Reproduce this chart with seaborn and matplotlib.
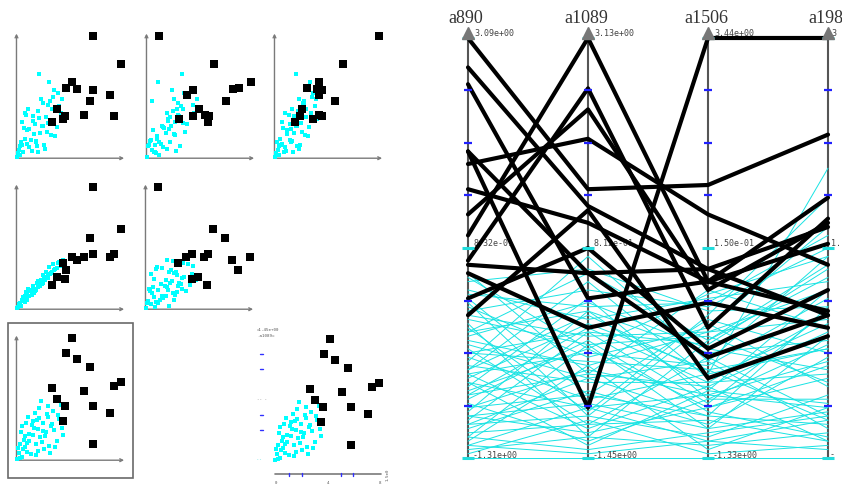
import matplotlib
matplotlib.use("Agg")
import matplotlib.pyplot as plt
import matplotlib.patches as mpatches
import numpy as np
import pandas as pd
import seaborn as sns

sns.set_theme(style="white")
plt.rcParams["font.family"] = ["DejaVu Sans"]

# ---------------- data (values normalised to each axis' min..max) ----------------
variables = ["a890", "a1089", "a1506", "a198"]

# selected (black) items
black_a890 = [1.00, 0.93, 0.89, 0.73, 0.73, 0.70, 0.64, 0.58, 0.53, 0.47, 0.46, 0.44, 0.38, 0.34]
black_a1089 = [0.64, 0.60, 0.38, 0.12, 0.44, 0.76, 0.56, 0.83, 1.00, 0.88, 0.44, 0.31, 0.50, 0.59]
black_a1506 = [0.65, 0.45, 0.42, 1.00, 0.45, 0.58, 0.42, 0.40, 0.42, 0.31, 0.24, 0.37, 0.26, 0.19]
black_a198 = [0.77, 0.34, 0.51, 1.00, 0.55, 0.46, 0.35, 0.56, 0.62, 0.57, 0.34, 0.31, 0.40, 0.29]

# unselected (cyan) items
cyan_a890 = [0.02, 0.05, 0.08, 0.03, 0.10, 0.12, 0.06, 0.15, 0.18, 0.20, 0.22, 0.25, 0.14, 0.28,
             0.30, 0.09, 0.33, 0.35, 0.38, 0.40, 0.42, 0.17, 0.26, 0.32, 0.04, 0.11, 0.21, 0.36,
             0.44, 0.07, 0.13, 0.19, 0.24, 0.29, 0.31, 0.01, 0.16, 0.23, 0.27, 0.34, 0.37, 0.39,
             0.05, 0.10, 0.12, 0.20, 0.25, 0.30, 0.03, 0.15, 0.43, 0.08, 0.18, 0.21, 0.00]
cyan_a1089 = [0.05, 0.02, 0.10, 0.12, 0.06, 0.15, 0.08, 0.20, 0.12, 0.25, 0.18, 0.30, 0.28, 0.22,
              0.35, 0.30, 0.27, 0.40, 0.15, 0.33, 0.45, 0.38, 0.08, 0.05, 0.22, 0.35, 0.42, 0.24,
              0.20, 0.16, 0.04, 0.32, 0.14, 0.37, 0.11, 0.09, 0.26, 0.48, 0.19, 0.29, 0.10, 0.36,
              0.27, 0.13, 0.21, 0.07, 0.23, 0.44, 0.01, 0.31, 0.26, 0.19, 0.03, 0.34, 0.00]
cyan_a1506 = [0.03, 0.06, 0.05, 0.04, 0.12, 0.10, 0.09, 0.17, 0.15, 0.22, 0.18, 0.27, 0.11, 0.30,
              0.25, 0.13, 0.29, 0.36, 0.33, 0.38, 0.35, 0.14, 0.24, 0.28, 0.02, 0.16, 0.19, 0.31,
              0.40, 0.08, 0.14, 0.21, 0.20, 0.26, 0.34, 0.01, 0.12, 0.23, 0.23, 0.30, 0.32, 0.37,
              0.07, 0.07, 0.15, 0.17, 0.21, 0.28, 0.04, 0.18, 0.39, 0.10, 0.16, 0.20, 0.00]
cyan_a198 = [0.06, 0.10, 0.15, 0.02, 0.22, 0.08, 0.04, 0.30, 0.12, 0.38, 0.20, 0.45, 0.05, 0.33,
             0.28, 0.35, 0.18, 0.50, 0.25, 0.42, 0.36, 0.27, 0.10, 0.46, 0.12, 0.40, 0.32, 0.55,
             0.31, 0.24, 0.14, 0.09, 0.26, 0.21, 0.62, 0.03, 0.19, 0.48, 0.07, 0.40, 0.17, 0.53,
             0.29, 0.11, 0.23, 0.04, 0.26, 0.43, 0.09, 0.34, 0.48, 0.36, 0.13, 0.69, 0.00]

# the labels of the last axis are cut by the picture edge in the reference: keep the visible part
top_labels = ["3.09e+00", "3.13e+00", "3.44e+00", "3"]
mid_labels = ["8.32e-01", "8.12e-01", "1.50e-01", "1."]
bottom_labels = ["-1.31e+00", "-1.45e+00", "-1.33e+00", "-"]

# ---------------- tables ----------------
n_c, n_b = len(cyan_a890), len(black_a890)
df = pd.DataFrame({
    "item": list(range(n_c + n_b)),
    "group": ["cyan"] * n_c + ["black"] * n_b,
    "a890": cyan_a890 + black_a890,
    "a1089": cyan_a1089 + black_a1089,
    "a1506": cyan_a1506 + black_a1506,
    "a198": cyan_a198 + black_a198,
})
long = df.melt(id_vars=["item", "group"], value_vars=variables, var_name="var", value_name="value")
long["pos"] = long["var"].map({v: i for i, v in enumerate(variables)})
long = long.sort_values(["item", "pos"])

W, H = 842, 491
fig = plt.figure(figsize=(W / 100, H / 100), dpi=100)
fig.patch.set_facecolor("white")


def px_axes(x0, y0, x1, y1):
    return fig.add_axes([x0 / W, 1 - y1 / H, (x1 - x0) / W, (y1 - y0) / H])


AX_GRAY = "#7a7a7a"


def scatter_panel(ox, oy, xvar, yvar, arrows=True):
    ax = px_axes(ox, oy - 121, ox + 104, oy)
    ax.set_xlim(0, 1)
    ax.set_ylim(0, 1)
    ax.axis("off")
    if arrows:
        ap = dict(arrowstyle="->", color=AX_GRAY, lw=1.0, mutation_scale=5, shrinkA=0, shrinkB=0)
        ax.annotate("", xy=(1.03, -0.01), xytext=(-0.005, -0.01), arrowprops=ap, annotation_clip=False)
        ax.annotate("", xy=(-0.005, 1.02), xytext=(-0.005, -0.01), arrowprops=ap, annotation_clip=False)
    sub_c = df[df.group == "cyan"]
    sub_b = df[df.group == "black"]
    sns.scatterplot(data=sub_c, x=xvar, y=yvar, ax=ax, marker="s", s=6.5, color="#00ffff",
                    linewidth=0, clip_on=False, legend=False, zorder=3)
    sns.scatterplot(data=sub_b, x=xvar, y=yvar, ax=ax, marker="s", s=26, color="black",
                    linewidth=0, clip_on=False, legend=False, zorder=4)
    ax.set_xlabel("")
    ax.set_ylabel("")
    return ax


# scatterplot matrix: columns x = a890, a1089, a1506 ; rows y = a198, a1506, a1089
scatter_panel(17, 157, "a890", "a198")
scatter_panel(147, 157, "a1089", "a198")
scatter_panel(275, 157, "a1506", "a198")
scatter_panel(17, 308, "a890", "a1506")
scatter_panel(146, 308, "a1089", "a1506")
scatter_panel(17, 459, "a890", "a1089")

# frame around the selected panel
fig.patches.append(mpatches.Rectangle((8 / W, 1 - 478 / H), 125 / W, 155 / H, transform=fig.transFigure,
                                      fill=False, edgecolor="#6a6a6a", lw=1.2))

# enlarged view of the selected panel
axz = scatter_panel(275, 460, "a890", "a1089", arrows=False)
axz.plot([0, 1.02], [-0.117, -0.117], color=AX_GRAY, lw=1.2, clip_on=False)
for xt in [0.13, 0.26, 0.63, 0.75]:
    axz.plot([xt, xt], [-0.105, -0.13], color="#3030ff", lw=1, clip_on=False)
for yt in [0.88, 0.75, 0.37, 0.25]:
    axz.plot([-0.145, -0.12], [yt, yt], color="#3030ff", lw=1, clip_on=False)
small = dict(fontsize=3, color="#555", clip_on=False, family="DejaVu Sans Mono")
axz.text(-0.17, 1.07, "=1.45e+00", **small)
axz.text(-0.17, 1.02, "-a1089=", **small)
axz.text(-0.17, 0.5, "-- -", **small)
axz.text(-0.17, 0.0, "- -", color="#00cccc", fontsize=3, clip_on=False)
axz.text(0.0, -0.2, "0", **small)
axz.text(0.5, -0.2, "4", **small)
axz.text(1.0, -0.2, "8", **small)
axz.text(1.06, -0.12, "1.5e0", rotation=90, va="center", **small)

# ---------------- parallel coordinates ----------------
axp = px_axes(440, 0, 842, 491)
axp.set_xlim((440 - 468) / 120, (842 - 468) / 120)
axp.set_ylim((458 - 491) / 420, 458 / 420)
axp.axis("off")

for i in range(len(variables)):
    axp.plot([i, i], [0, 1], color="#555555", lw=1.5, zorder=1)

sns.lineplot(data=long[long.group == "cyan"], x="pos", y="value", units="item", estimator=None,
             sort=False, color="#19e3e3", lw=0.7, ax=axp, legend=False, zorder=2)
sns.lineplot(data=long[long.group == "black"], x="pos", y="value", units="item", estimator=None,
             sort=False, color="black", lw=3.0, ax=axp, legend=False, zorder=3)
axp.set_xlabel("")
axp.set_ylabel("")

for i, name in enumerate(variables):
    dx = 6 / 120 if i < 3 else 3 / 120
    for k in [1, 2, 3, 5, 6, 7]:
        axp.plot([i - 4 / 120, i + 4 / 120], [k / 8, k / 8], color="#2020ff", lw=1.6, zorder=4,
                 solid_capstyle="butt")
    for k in [0, 4, 8]:
        axp.plot([i - 6 / 120, i + 6 / 120], [k / 8, k / 8], color="#22dddd", lw=2.2, zorder=4,
                 solid_capstyle="butt")
    axp.plot(i, (458 - 33) / 420, marker="^", ms=8, color="#777777", mec="#777777", zorder=5,
             clip_on=False)
    axp.text(i + dx, (458 - 34) / 420, top_labels[i], fontsize=6, color="#444",
             family="DejaVu Sans Mono", va="center", ha="left", zorder=2)
    axp.text(i + dx, (458 - 244) / 420, mid_labels[i], fontsize=6, color="#444",
             family="DejaVu Sans Mono", va="center", ha="left", zorder=2)
    axp.text(i + dx - 1 / 120, (458 - 455) / 420, bottom_labels[i], fontsize=6, color="#444",
             family="DejaVu Sans Mono", va="center", ha="left", zorder=2)
    axp.text(i - 2 / 120, (458 - 19) / 420, name, fontsize=13, color="#333",
             family="Liberation Serif", ha="center", va="center", clip_on=False)

fig.savefig("out.png", dpi=100, facecolor="white")
